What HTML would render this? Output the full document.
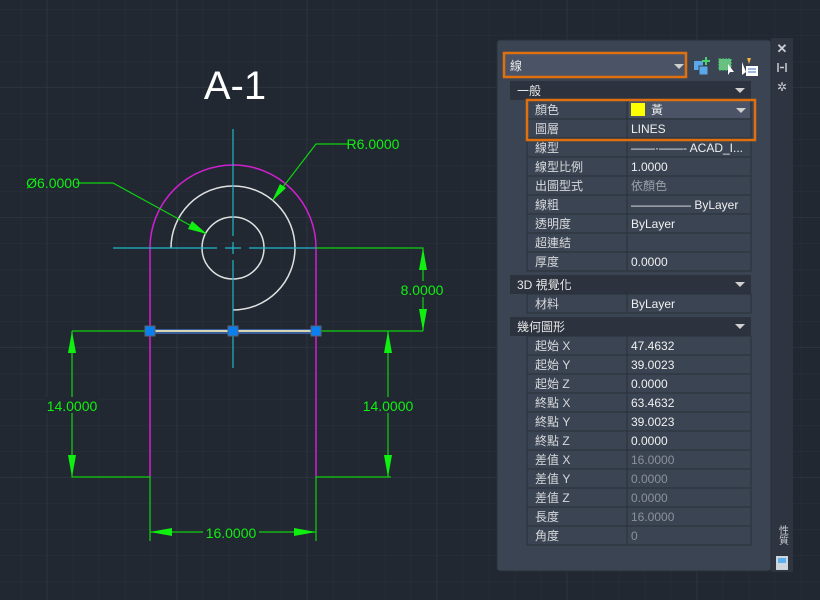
<!DOCTYPE html>
<html><head><meta charset="utf-8"><style>
html,body{margin:0;padding:0;background:#212832;}
svg{display:block}
.t{font-family:"Liberation Sans","Noto Sans CJK TC",sans-serif;}
</style></head><body>
<svg width="820" height="600" xmlns="http://www.w3.org/2000/svg" class="t">
<defs>
<pattern id="mn" width="26" height="26" patternUnits="userSpaceOnUse" x="20.7" y="9">
<path d="M0 0H26M0 0V26" stroke="#2a313c" stroke-width="1" fill="none"/></pattern>
<pattern id="mj" width="130" height="130" patternUnits="userSpaceOnUse" x="46.7" y="87">
<path d="M0 0H130M0 0V130" stroke="#343c4a" stroke-width="1" fill="none"/></pattern>
</defs>
<rect width="820" height="600" fill="#212832"/>
<rect width="820" height="600" fill="url(#mn)"/>
<rect width="820" height="600" fill="url(#mj)"/>

<text x="235" y="99" font-size="40" fill="#fff" text-anchor="middle">A-1</text>

<path d="M150 248 A83 83 0 0 1 316 248 V477 M150 248 V477" stroke="#d020d0" stroke-width="1.5" fill="none"/>
<path d="M171 248 A62 62 0 1 1 233 310" stroke="#e0e0e0" stroke-width="1.5" fill="none"/>
<circle cx="233" cy="248" r="31" stroke="#e0e0e0" stroke-width="1.5" fill="none"/>
<g stroke="#20b8c8" stroke-width="1.2">
<path d="M233 129V236M233 242V254M233 260V368"/>
<path d="M113 248H217M225 248H241M249 248H316"/>
</g>
<g stroke="#10d010" stroke-width="1.2" fill="none">
<path d="M316 248H423V331"/>
<path d="M72 331H150M316 331H423"/>
<path d="M72 331V477H150V541M316 541V477H391M388 331V477"/>
<path d="M150 532H316"/>
<path d="M76 183H113L206 234"/>
<path d="M349 144H316L273 200"/>
</g>
<g fill="#10f010">
<polygon points="423,248 419,270 427,270"/><polygon points="423,331 419,309 427,309"/>
<polygon points="72,331 68,353 76,353"/><polygon points="72,477 68,455 76,455"/>
<polygon points="388,331 384,353 392,353"/><polygon points="388,477 384,455 392,455"/>
<polygon points="150,532 172,528 172,536"/><polygon points="316,532 294,528 294,536"/>
<polygon points="207,234 188,229 192,221"/>
<polygon points="272,201 286,188 280,184"/>
</g>
<g font-size="14" fill="#10f010" text-anchor="middle">
<rect x="398" y="281" width="48" height="16" fill="#212832"/>
<text x="422" y="295">8.0000</text>
<rect x="45" y="397" width="54" height="16" fill="#212832"/>
<text x="72" y="411">14.0000</text>
<rect x="361" y="397" width="54" height="16" fill="#212832"/>
<text x="388" y="411">14.0000</text>
<rect x="203" y="524" width="56" height="16" fill="#212832"/>
<text x="231" y="538">16.0000</text>
<text x="53" y="188">Ø6.0000</text>
<text x="373" y="149">R6.0000</text>
</g>
<rect x="150" y="329" width="166" height="5" fill="#3a5a9a"/>
<line x1="150" y1="331" x2="316" y2="331" stroke="#d8d8b0" stroke-width="2"/>
<g fill="#0a7ff0" stroke="#5a6070"><rect x="145" y="326" width="10" height="10"/><rect x="228" y="326" width="10" height="10"/><rect x="311" y="326" width="10" height="10"/></g>

<rect x="771" y="38" width="22" height="534" fill="#2e3440"/>
<rect x="497" y="40" width="274" height="531" rx="3" fill="#3b4452" stroke="#2a303a"/>
<rect x="504" y="53" width="182" height="24" fill="#4a5466" stroke="#e0700f" stroke-width="2.5"/>
<text x="510" y="70" font-size="12" fill="#e8e8e8">線</text>
<polygon points="674,64 684,64 679,69" fill="#d0d0d0"/>
<rect x="694" y="61" width="9" height="9" fill="#5aa8e8"/><rect x="699" y="66" width="9" height="9" fill="#5aa8e8" stroke="#3b4452"/>
<path d="M706 57V65M702 61H710" stroke="#4ad070" stroke-width="2"/>
<rect x="719" y="59" width="12" height="11" fill="#6ac080" stroke="#4ad070" stroke-dasharray="2 1"/>
<polygon points="728,64 734,72 730,72 728,75" fill="#fff"/>
<polygon points="742,62 742,75 746,72" fill="#fff"/><rect x="746" y="66" width="12" height="10" fill="#fff"/>
<path d="M748 69h8M748 72h8" stroke="#3a70c0"/><polygon points="747,58 751,58 749,64" fill="#f0b040"/>
<text x="782" y="53" font-size="13" fill="#c8ccd4" text-anchor="middle" font-weight="bold">✕</text>
<path d="M778 63V72M786 63V72M780 67.5H784" stroke="#c8ccd4" stroke-width="1.5"/>
<text x="782" y="91" font-size="12" fill="#c8ccd4" text-anchor="middle">✲</text>
<text x="782" y="535" font-size="10" fill="#c8ccd4" text-anchor="middle" writing-mode="tb">性質</text>
<rect x="776" y="556" width="12" height="14" fill="#d0d4dc"/><rect x="778" y="558" width="8" height="5" fill="#5ab0f0"/>

<g font-size="12">
<rect x="510" y="81" width="241" height="19" fill="#2c333e"/>
<text x="517" y="95" fill="#e8e8e8">一般</text>
<polygon points="735,88 745,88 740,93" fill="#d0d0d0"/>
<rect x="527" y="100" width="224" height="171" fill="#3b4452" stroke="#2a303a"/>
<g stroke="#2a303a"><path d="M627 100V271"/>
<path d="M527 119H751M527 138H751M527 157H751M527 176H751M527 195H751M527 214H751M527 233H751M527 252H751"/></g>
<rect x="629" y="101" width="121" height="17" fill="#4a5466"/>
<rect x="631" y="103" width="14" height="13" fill="#ffff00"/>
<polygon points="736,108 746,108 741,113" fill="#d0d0d0"/>
<g fill="#d8dade">
<text x="535" y="114">顏色</text><text x="535" y="133">圖層</text><text x="535" y="152">線型</text>
<text x="535" y="171">線型比例</text><text x="535" y="190">出圖型式</text><text x="535" y="209">線粗</text>
<text x="535" y="228">透明度</text><text x="535" y="247">超連結</text><text x="535" y="266">厚度</text>
</g>
<g fill="#f0f0f0">
<text x="651" y="114">黃</text><text x="631" y="133">LINES</text>
<text x="631" y="152">——·——- ACAD_I...</text><text x="631" y="171">1.0000</text>
<text x="631" y="190" fill="#9aa0a8">依顏色</text><text x="631" y="209">————— ByLayer</text>
<text x="631" y="228">ByLayer</text><text x="631" y="266">0.0000</text>
</g>
<rect x="527" y="100" width="228" height="40" fill="none" stroke="#e0700f" stroke-width="2.5"/>

<rect x="510" y="275" width="241" height="19" fill="#2c333e"/>
<text x="517" y="289" fill="#e8e8e8">3D 視覺化</text>
<polygon points="735,282 745,282 740,287" fill="#d0d0d0"/>
<rect x="527" y="294" width="224" height="19" fill="#3b4452" stroke="#2a303a"/>
<path d="M627 294V313" stroke="#2a303a"/>
<text x="535" y="308" fill="#d8dade">材料</text><text x="631" y="308" fill="#f0f0f0">ByLayer</text>

<rect x="510" y="317" width="241" height="19" fill="#2c333e"/>
<text x="517" y="331" fill="#e8e8e8">幾何圖形</text>
<polygon points="735,324 745,324 740,329" fill="#d0d0d0"/>
<rect x="527" y="336" width="224" height="209" fill="#3b4452" stroke="#2a303a"/>
<g stroke="#2a303a"><path d="M627 336V545"/>
<path d="M527 355H751M527 374H751M527 393H751M527 412H751M527 431H751M527 450H751M527 469H751M527 488H751M527 507H751M527 526H751"/></g>
<g fill="#d8dade">
<text x="535" y="350">起始 X</text><text x="535" y="369">起始 Y</text><text x="535" y="388">起始 Z</text>
<text x="535" y="407">終點 X</text><text x="535" y="426">終點 Y</text><text x="535" y="445">終點 Z</text>
<text x="535" y="464">差值 X</text><text x="535" y="483">差值 Y</text><text x="535" y="502">差值 Z</text>
<text x="535" y="521">長度</text><text x="535" y="540">角度</text>
</g>
<g fill="#f0f0f0">
<text x="631" y="350">47.4632</text><text x="631" y="369">39.0023</text><text x="631" y="388">0.0000</text>
<text x="631" y="407">63.4632</text><text x="631" y="426">39.0023</text><text x="631" y="445">0.0000</text>
</g>
<g fill="#8a929c">
<text x="631" y="464">16.0000</text><text x="631" y="483">0.0000</text><text x="631" y="502">0.0000</text>
<text x="631" y="521">16.0000</text><text x="631" y="540">0</text>
</g>
</g>
</svg>
</body></html>
